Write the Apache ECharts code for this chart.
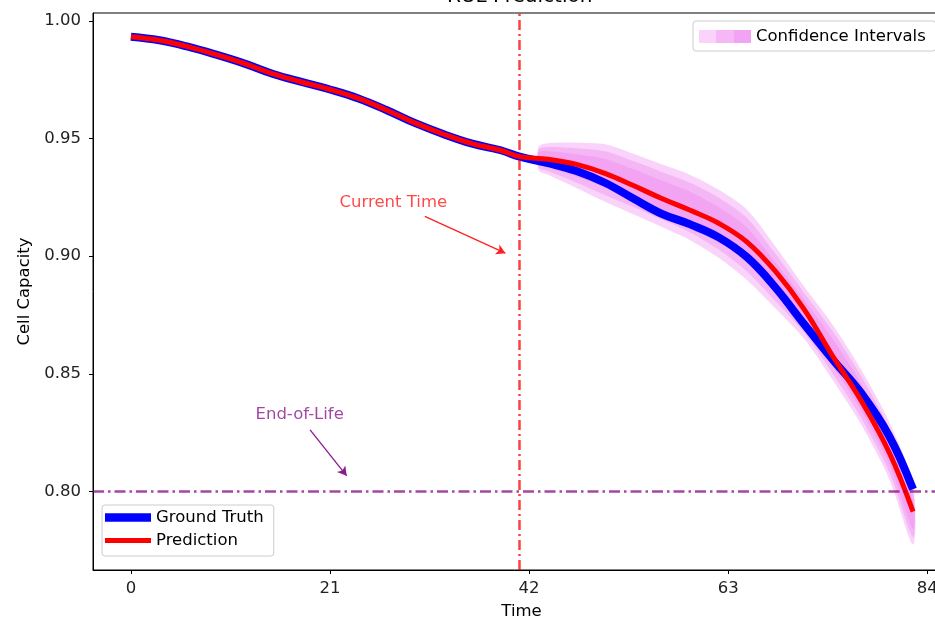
<!DOCTYPE html>
<html>
<head>
<meta charset="utf-8">
<title>RUL Prediction</title>
<script src="https://cdn.jsdelivr.net/npm/echarts@6/dist/echarts.min.js"></script>
<style>
  html, body { margin: 0; padding: 0; background: #fff; }
  #chart { width: 935px; height: 622px; }
</style>
</head>
<body>
<div id="chart"></div>
<script>
// time steps shared by the measured and predicted capacity
const timeSteps = [0, 3, 6, 9, 12, 15, 18, 21, 24, 27, 30, 33, 36, 39, 41,
  44, 47, 50, 53, 56, 59, 62, 65, 68, 71, 74, 77, 80, 82.5];
const groundTruth = [0.9932, 0.9917, 0.9890, 0.9856, 0.9818, 0.9774, 0.9740, 0.9708, 0.9670, 0.9620,
  0.9565, 0.9518, 0.9478, 0.9450, 0.9423, 0.9395, 0.9362, 0.9312, 0.9245, 0.9180,
  0.9135, 0.9080, 0.8995, 0.8866, 0.8712, 0.8562, 0.8420, 0.8235, 0.8010];
const prediction = [0.9932, 0.9917, 0.9890, 0.9856, 0.9818, 0.9774, 0.9740, 0.9708, 0.9670, 0.9620,
  0.9565, 0.9518, 0.9478, 0.9450, 0.9423, 0.9412, 0.9390, 0.9352, 0.9300, 0.9245,
  0.9195, 0.9140, 0.9060, 0.8935, 0.8775, 0.8577, 0.8388, 0.8165, 0.7915];

// confidence bands (outer -> inner)
const ciTime = [43, 44, 47, 50, 53, 56, 59, 62, 65, 68, 71, 74, 77, 80, 82.5];
const ciOuterUpper = [0.9465, 0.9480, 0.9482, 0.9475, 0.9435, 0.9390, 0.9345, 0.9282, 0.9197, 0.9040, 0.8872, 0.8710, 0.8520, 0.8295, 0.8030];
const ciOuterLower = [0.9365, 0.9346, 0.9290, 0.9231, 0.9178, 0.9124, 0.9068, 0.8993, 0.8898, 0.8778, 0.8650, 0.8475, 0.8287, 0.8053, 0.7775];
const ciMidUpper = [0.9453, 0.9464, 0.9459, 0.9446, 0.9404, 0.9358, 0.9312, 0.9248, 0.9161, 0.9009, 0.8845, 0.8682, 0.8492, 0.8266, 0.7999];
const ciMidLower = [0.9377, 0.9362, 0.9313, 0.9260, 0.9209, 0.9156, 0.9101, 0.9028, 0.8934, 0.8809, 0.8677, 0.8503, 0.8315, 0.8082, 0.7806];
const ciInnerUpper = [0.9440, 0.9446, 0.9433, 0.9413, 0.9369, 0.9322, 0.9274, 0.9208, 0.9121, 0.8973, 0.8815, 0.8650, 0.8461, 0.8233, 0.7965];
const ciInnerLower = [0.9391, 0.9380, 0.9339, 0.9293, 0.9244, 0.9192, 0.9139, 0.9067, 0.8974, 0.8845, 0.8707, 0.8535, 0.8347, 0.8115, 0.7840];

const currentTime = 41;
const endOfLife = 0.80;

const xTicks = [0, 21, 42, 63, 84];
const yTicks = [0.80, 0.85, 0.90, 0.95, 1.00];

const FONT = 'DejaVu Sans';
const bandColor = 'rgba(238,130,238,0.35)';

const bands = [
  { upper: ciOuterUpper, lower: ciOuterLower },
  { upper: ciMidUpper, lower: ciMidLower },
  { upper: ciInnerUpper, lower: ciInnerLower },
];

const chart = echarts.init(document.getElementById('chart'), null, { renderer: 'canvas' });

const option = {
  animation: false,
  backgroundColor: '#fff',
  textStyle: { fontFamily: FONT },
  title: {
    text: 'RUL Prediction',
    left: 447,
    top: -13,
    padding: 0,
    textStyle: { fontFamily: FONT, fontSize: 20, fontWeight: 'normal', color: '#000' },
  },
  grid: {
    // 图在右侧被裁掉，所以宽度超出画布
    left: 93,
    top: 13,
    width: 857,
    height: 557,
    outerBoundsMode: 'none',
    containLabel: false,
    show: true,
    borderColor: '#000',
    borderWidth: 1,
    backgroundColor: 'transparent',
  },
  legend: [
    {
      // 左下角图例
      orient: 'vertical',
      left: 102,
      top: 505,
      padding: [4, 10, 7, 3],
      itemGap: 6,
      itemWidth: 46,
      itemHeight: 20,
      backgroundColor: 'rgba(255,255,255,0.8)',
      borderColor: '#cccccc',
      borderWidth: 1,
      borderRadius: 3,
      textStyle: { fontFamily: FONT, fontSize: 16.5, color: '#000' },
      selectedMode: false,
      data: [
        { name: 'Ground Truth', icon: 'path://M0 0H44V8H0Z' },
        { name: 'Prediction', icon: 'path://M0 0H44V5H0Z' },
      ],
    },
    {
      // 右上角置信区间图例
      left: 693,
      top: 21,
      padding: [7, 10, 6, 6],
      itemWidth: 52,
      itemHeight: 13,
      backgroundColor: 'rgba(255,255,255,0.8)',
      borderColor: '#cccccc',
      borderWidth: 1,
      borderRadius: 3,
      textStyle: { fontFamily: FONT, fontSize: 16.5, color: '#000' },
      selectedMode: false,
      data: [
        {
          name: 'Confidence Intervals',
          icon: 'rect',
          itemStyle: {
            color: new echarts.graphic.LinearGradient(0, 0, 1, 0, [
              { offset: 0, color: '#f9d3f9' },
              { offset: 0.333, color: '#f9d3f9' },
              { offset: 0.334, color: '#f6b7f6' },
              { offset: 0.666, color: '#f6b7f6' },
              { offset: 0.667, color: '#f3a3f3' },
              { offset: 1, color: '#f3a3f3' },
            ]),
          },
        },
      ],
    },
  ],
  xAxis: {
    type: 'value',
    min: -4,
    max: 86.4,
    name: 'Time',
    nameLocation: 'middle',
    nameGap: 33,
    nameTextStyle: { fontFamily: FONT, fontSize: 16.5, color: '#000' },
    axisLine: { show: true, onZero: false, lineStyle: { color: '#000', width: 1 } },
    axisTick: { show: true, length: 4, customValues: xTicks, lineStyle: { color: '#000' } },
    axisLabel: { customValues: xTicks, margin: 10, fontFamily: FONT, fontSize: 16.5, color: '#222' },
    splitLine: { show: false },
  },
  yAxis: {
    type: 'value',
    min: 0.7667,
    max: 1.0033,
    name: 'Cell Capacity',
    nameLocation: 'middle',
    nameGap: 60,
    nameTextStyle: { fontFamily: FONT, fontSize: 16.5, color: '#000' },
    axisLine: { show: true, onZero: false, lineStyle: { color: '#000', width: 1 } },
    axisTick: { show: true, length: 4, customValues: yTicks, lineStyle: { color: '#000' } },
    axisLabel: {
      customValues: yTicks,
      margin: 12,
      fontFamily: FONT,
      fontSize: 16.5,
      color: '#222',
      formatter: (v) => v.toFixed(2),
    },
    splitLine: { show: false },
  },
  series: [
    {
      name: 'Confidence Intervals',
      type: 'custom',
      color: '#f3a3f3',
      silent: true,
      data: bands.map((b) => [ciTime[0], b.upper[0]]),
      renderItem: (params, api) => {
        const band = bands[params.dataIndex];
        const pts = [];
        ciTime.forEach((t, i) => pts.push(api.coord([t, band.upper[i]])));
        for (let i = ciTime.length - 1; i >= 0; i--) {
          pts.push(api.coord([ciTime[i], band.lower[i]]));
        }
        return {
          type: 'polygon',
          shape: { points: pts, smooth: 0.3 },
          style: { fill: bandColor },
        };
      },
    },
    {
      name: 'Ground Truth',
      type: 'line',
      color: '#0000ff',
      showSymbol: false,
      smooth: 0.4,
      silent: true,
      data: timeSteps.map((t, i) => [t, groundTruth[i]]),
      lineStyle: { color: '#0000ff', width: 8 },
    },
    {
      name: 'Prediction',
      type: 'line',
      color: '#ff0000',
      showSymbol: false,
      smooth: 0.4,
      silent: true,
      data: timeSteps.map((t, i) => [t, prediction[i]]),
      lineStyle: { color: '#ff0000', width: 5 },
    },
    {
      // 当前时刻竖线 + 寿命终止水平线
      name: 'refLines',
      type: 'line',
      data: [],
      silent: true,
      markLine: {
        silent: true,
        symbol: 'none',
        label: { show: false },
        animation: false,
        data: [
          { xAxis: currentTime, lineStyle: { color: 'rgba(255,0,0,0.75)', width: 2.5, type: [10, 4, 2, 4] } },
          { yAxis: endOfLife, lineStyle: { color: 'rgba(128,0,128,0.72)', width: 2.5, type: [11, 4, 2.5, 4] } },
        ],
      },
    },
    {
      name: 'arrows',
      type: 'line',
      data: [],
      silent: true,
      markLine: {
        silent: true,
        symbol: ['none', 'arrow'],
        symbolSize: [8, 9],
        label: { show: false },
        data: [
          [
            { coord: [31.0, 0.9169], lineStyle: { color: '#ff2020', width: 1.3, type: 'solid' } },
            { coord: [39.5, 0.9013] },
          ],
          [
            { coord: [18.9, 0.8262], lineStyle: { color: '#8b1a8b', width: 1.3, type: 'solid' } },
            { coord: [22.76, 0.8067] },
          ],
        ],
      },
    },
    {
      name: 'notes',
      type: 'scatter',
      symbolSize: 1,
      silent: true,
      itemStyle: { color: 'rgba(0,0,0,0)' },
      label: { show: true, position: 'inside', fontFamily: FONT, fontSize: 16.5 },
      data: [
        { value: [27.68, 0.9228], label: { formatter: 'Current Time', color: '#ff1a1a' } },
        { value: [17.8, 0.8326], label: { formatter: 'End-of-Life', color: '#8b1a8b' } },
      ],
    },
  ],
};

chart.setOption(option);
</script>
</body>
</html>
